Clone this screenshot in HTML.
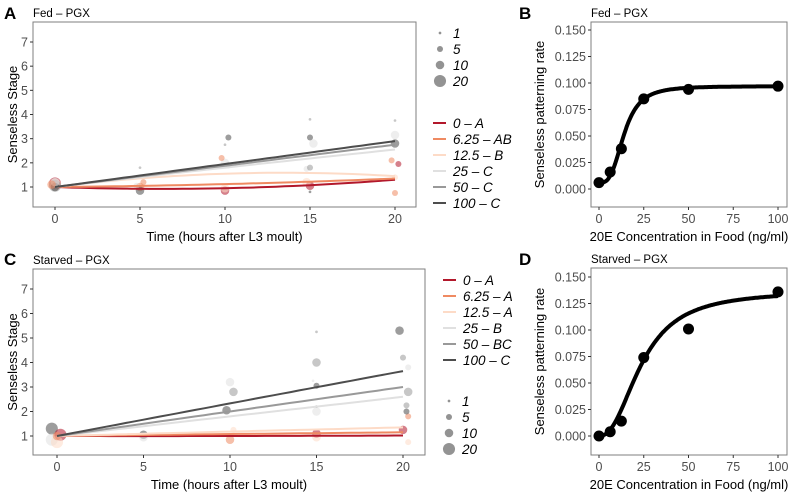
<!DOCTYPE html>
<html><head><meta charset="utf-8">
<style>
body{margin:0;background:#fff;}
svg{display:block;font-family:"Liberation Sans",sans-serif;}
</style></head>
<body>
<svg id="fig" width="794" height="495" viewBox="0 0 794 495"></svg>
<script>
// ---------- data ----------
const groupsA = ["0 – A","6.25 – AB","12.5 – B","25 – C","50 – C","100 – C"];
const groupsC = ["0 – A","6.25 – A","12.5 – A","25 – B","50 – BC","100 – C"];
const groupColors = ["#b2182b","#ef8a62","#fddbc7","#e0e0e0","#999999","#4d4d4d"];
// fit values at t=0,10,20 per group
const fitA = [[1,0.95,1.3],[1,1.12,1.35],[1,1.55,1.45],[1,1.8,2.55],[1,1.88,2.75],[1,1.95,2.9]];
const fitC = [[1,1.0,1.02],[1,1.08,1.15],[1,1.18,1.35],[1,1.8,2.6],[1,2.0,3.0],[1,2.33,3.65]];
// scatter points: [time, stage, n, group]
const ptsA = [[0,1.15,20,0],[0,1.1,20,2],[0,1.05,20,4],[0,1.0,10,5],[0,1.2,10,3],[-0.2,1.1,10,1],
 [5,1.0,10,1],[5,0.85,10,5],[5.2,1.2,5,1],[5,1.8,1,4],[4.8,1.05,5,3],
 [10,0.85,10,0],[10,0.95,10,2],[10.2,3.05,5,5],[10,2.0,10,3],[9.8,2.2,5,1],[10,2.75,1,4],[10.2,1.9,5,4],
 [15,1.05,10,0],[14.8,1.2,10,2],[15,3.05,5,5],[15.2,2.8,10,3],[14.8,1.75,5,3],[15,1.8,5,4],[15,3.8,1,4],[15,0.8,1,5],
 [20,0.75,5,1],[20.2,1.95,5,0],[19.8,2.1,5,1],[20,2.8,10,5],[20,3.15,10,3],[20,3.75,1,4],[20,1.4,5,2]];
const ptsC = [[-0.3,1.3,20,5],[-0.3,0.85,20,3],[0.2,1.05,20,0],[0,0.75,20,2],[0,1.0,10,1],
 [5,1.05,10,5],[5,0.95,10,3],[10,0.85,10,1],[10,3.2,10,3],[10.2,2.8,10,4],[9.8,2.05,10,5],[10.2,1.25,5,2],
 [15,1.1,10,0],[15,0.95,10,2],[15,4.0,10,4],[15,3.05,5,5],[15,5.25,1,4],[15,2.0,10,3],[15,2.2,1,4],[14.8,3.25,1,3],
 [20,1.25,10,0],[20.3,1.8,5,1],[19.8,5.3,10,5],[20,4.2,5,4],[20.3,3.8,5,3],[20.3,2.8,10,4],[20.2,2.25,5,4],[20.2,2.0,5,5],[20.3,0.75,5,2]];
const sizeLevels = [1,5,10,20];
const concB = [0,6.25,12.5,25,50,100];
const rateB = [0.006,0.016,0.038,0.085,0.094,0.097];
const fitParamsB = [0.006,0.097,14,3.2]; // bottom, top, ec50, hill
const concD = [0,6.25,12.5,25,50,100];
const rateD = [0.0,0.004,0.014,0.074,0.101,0.136];
const fitParamsD = [0.0,0.137,24,2.3];
const timeTicks = [0,5,10,15,20];
const stageTicks = [1,2,3,4,5,6,7];
const concTicks = [0,25,50,75,100];
const rateTicks = [0,0.025,0.05,0.075,0.1,0.125,0.15];

// ---------- helpers ----------
const NS="http://www.w3.org/2000/svg";
const svg=document.getElementById('fig');
function el(tag,attrs,parent,text){const e=document.createElementNS(NS,tag);for(const k in attrs)e.setAttribute(k,attrs[k]);if(text!==undefined)e.textContent=text;(parent||svg).appendChild(e);return e;}
function lin(d0,d1,r0,r1){return v=>r0+(v-d0)*(r1-r0)/(d1-d0);}
function rad(n){return Math.sqrt(n)*1.35;}

function panel(o){
  const g=el('g',{});
  
  
  const lbl=el('text',{x:o.lx,y:o.ly,'font-size':17,'font-weight':'bold'},g,o.letter);
  
  const t=el('text',{x:o.box[0],y:o.box[1]-5,'font-size':11.5,fill:'#000'},g,o.title);
  
  const [x0,y0,x1,y1]=o.box;
  const r=el('rect',{x:x0,y:y0,width:x1-x0,height:y1-y0,fill:'none',stroke:'#7f7f7f','stroke-width':1},g);
  
  o.xt.forEach(v=>{const X=o.sx(v);el('line',{x1:X,x2:X,y1:y1,y2:y1+3,stroke:'#333'},g);
    const tx=el('text',{x:X,y:y1+16,'font-size':12.5,fill:'#4d4d4d','text-anchor':'middle'},g,o.xf(v));
    });
  o.yt.forEach(v=>{const Y=o.sy(v);el('line',{x1:x0-3,x2:x0,y1:Y,y2:Y,stroke:'#333'},g);
    const ty=el('text',{x:x0-5,y:Y+4.5,'font-size':12.5,fill:'#4d4d4d','text-anchor':'end'},g,o.yf(v));
    });
  const xa=el('text',{x:(x0+x1)/2,y:y1+34,'font-size':13,'text-anchor':'middle'},g,o.xlab);
  
  const ya=el('text',{x:0,y:0,'font-size':13,'text-anchor':'middle',transform:`translate(${o.yx},${(y0+y1)/2}) rotate(-90)`},g,o.ylab);
  
  return g;
}

function timePanel(p){
  const sx=lin(0,20,p.x0v,p.x20v), sy=lin(1,7,p.y1v,p.y7v);
  const g=panel({name:p.name,letter:p.letter,lx:p.lx,ly:p.ly,title:p.title,box:p.box,sx,sy,xt:timeTicks,yt:stageTicks,
    xf:v=>v,yf:v=>v,xlab:'Time (hours after L3 moult)',ylab:'Senseless Stage',yx:17});
  p.pts.forEach(q=>{const c=el('circle',{cx:sx(q[0]),cy:sy(q[1]),r:rad(q[2]),fill:groupColors[q[3]],opacity:0.55},g);
    });
  p.fit.forEach((f,i)=>{let d='';for(let k=0;k<=40;k++){const t=k/2;const a=f[0],b=f[1],c=f[2];
      const y=a*(t-10)*(t-20)/200 - b*t*(t-20)/100 + c*t*(t-10)/200;
      d+=(k?'L':'M')+sx(t).toFixed(1)+','+sy(y).toFixed(1);}
    const pa=el('path',{d,fill:'none',stroke:groupColors[i],'stroke-width':2},g);
    });
  p.groups.forEach((n,i)=>{const Y=p.lineLegY+i*16;
    const l=el('line',{x1:p.lineLegX,x2:p.lineLegX+13,y1:Y,y2:Y,stroke:groupColors[i],'stroke-width':2},g);
    
    const t=el('text',{x:p.lineLegX+20,y:Y+5,'font-size':13.5,'font-style':'italic'},g,n);
    });
  sizeLevels.forEach((s,i)=>{const Y=p.sizeLegY+i*16;
    const c=el('circle',{cx:p.sizeLegX,cy:Y,r:rad(s),fill:'#808080',opacity:0.85},g);
    
    const t=el('text',{x:p.sizeLegX+13,y:Y+5,'font-size':13.5,'font-style':'italic'},g,s);
    });
}

function dosePanel(p){
  const sx=lin(0,100,p.box[0]+8,p.box[2]-9), sy=lin(0,0.15,p.y0v,p.y15v);
  const g=panel({name:p.name,letter:p.letter,lx:p.lx,ly:p.ly,title:p.title,box:p.box,sx,sy,xt:concTicks,yt:rateTicks,
    xf:v=>v,yf:v=>v.toFixed(3),xlab:'20E Concentration in Food (ng/ml)',ylab:'Senseless patterning rate',yx:544});
  const [b,t,e,h]=p.par;let d='';
  for(let k=0;k<=200;k++){const x=k/2;const y=b+(t-b)/(1+Math.pow(e/Math.max(x,1e-6),h));
    d+=(k?'L':'M')+sx(x).toFixed(1)+','+sy(y).toFixed(1);}
  const pa=el('path',{d,fill:'none',stroke:'#000','stroke-width':4,'stroke-linejoin':'round'},g);
  
  p.conc.forEach((c,i)=>{const ci=el('circle',{cx:sx(c),cy:sy(p.rate[i]),r:5.5,fill:'#000'},g);
    });
}

timePanel({name:'panel-a',letter:'A',lx:4,ly:19,title:'Fed – PGX',box:[33,22,416,207],x0v:55,x20v:395,y1v:187,y7v:42,
  pts:ptsA,fit:fitA,groups:groupsA,lineLegX:433,lineLegY:123,sizeLegX:440,sizeLegY:33});
timePanel({name:'panel-c',letter:'C',lx:4,ly:265,title:'Starved – PGX',box:[33,269,425,455],x0v:57,x20v:403,y1v:436,y7v:289,
  pts:ptsC,fit:fitC,groups:groupsC,lineLegX:443,lineLegY:280,sizeLegX:449,sizeLegY:401});
dosePanel({name:'panel-b',letter:'B',lx:519,ly:19,title:'Fed – PGX',box:[591,22,787,207],y0v:189,y15v:30,conc:concB,rate:rateB,par:fitParamsB});
dosePanel({name:'panel-d',letter:'D',lx:519,ly:265,title:'Starved – PGX',box:[591,268,787,455],y0v:436,y15v:277,conc:concD,rate:rateD,par:fitParamsD});
</script>
</body></html>
